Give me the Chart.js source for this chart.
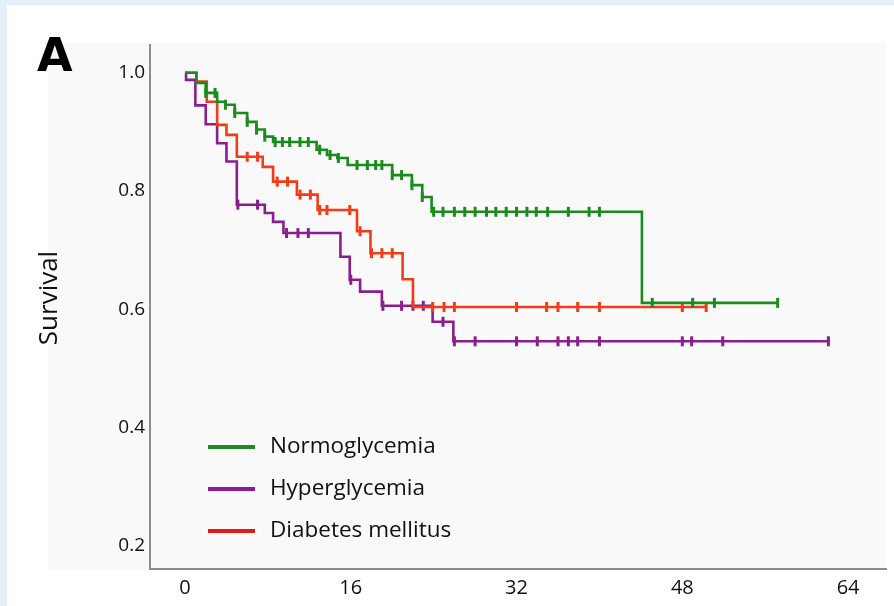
<!DOCTYPE html>
<html>
<head>
<meta charset="utf-8">
<script src="https://cdn.jsdelivr.net/npm/chart.js@4.4.1/dist/chart.umd.min.js"></script>
<style>
  html,body{margin:0;padding:0;}
  body{width:894px;height:606px;background:#e4eff9;position:relative;overflow:hidden;}
  #panel{position:absolute;left:7px;top:5px;width:887px;height:601px;background:#ffffff;}
  #plotbg{position:absolute;left:48px;top:43px;width:838px;height:527px;background:#f9f9f9;}
  #c{position:absolute;left:0;top:0;}
</style>
</head>
<body>
<div id="panel"></div>
<div id="plotbg"></div>
<canvas id="c" width="894" height="606"></canvas>
<script>
// ---- Data ----
const xTicks = [0, 16, 32, 48, 64];
const yTicks = [0.2, 0.4, 0.6, 0.8, 1.0];
const groupNames = ['Normoglycemia', 'Hyperglycemia', 'Diabetes mellitus'];

// Normoglycemia: step times and survival after each step
const normTimes = [0, 1.1, 2.0, 3.1, 3.9, 4.8, 6.0, 6.9, 7.7, 8.5, 12.7, 13.7, 14.7, 15.7, 20.0, 21.9, 22.9, 23.8, 44.1, 57.3];
const normSurv  = [1.0, 0.983, 0.966, 0.951, 0.946, 0.932, 0.917, 0.904, 0.892, 0.883, 0.870, 0.861, 0.856, 0.844, 0.827, 0.810, 0.790, 0.765, 0.611, 0.611];
const normCensor = [2.0, 2.9, 3.9, 4.8, 6.0, 6.9, 7.7, 8.7, 9.4, 10.1, 11.1, 11.9, 13.0, 14.0, 14.8, 16.6, 17.6, 18.4, 19.0, 20.0, 20.9, 21.9, 22.9, 24.0, 24.9, 26.0, 27.0, 28.0, 29.1, 30.0, 31.0, 32.0, 33.0, 33.9, 35.0, 37.0, 39.0, 40.0, 45.1, 49.0, 51.1, 57.2];

// Hyperglycemia
const hyperTimes = [0, 0.1, 1.0, 2.0, 3.1, 4.0, 5.0, 7.7, 8.5, 9.5, 15.0, 15.9, 16.9, 19.0, 23.9, 25.9, 62.2];
const hyperSurv  = [1.0, 0.988, 0.945, 0.913, 0.881, 0.850, 0.777, 0.763, 0.748, 0.729, 0.689, 0.650, 0.630, 0.606, 0.579, 0.546, 0.546];
const hyperCensor = [5.1, 7.0, 9.8, 10.9, 11.9, 16.0, 19.1, 20.9, 22.0, 23.0, 24.9, 26.0, 28.0, 32.0, 34.0, 36.0, 37.0, 37.9, 40.0, 48.0, 48.9, 51.9, 62.1];

// Diabetes mellitus
const diabTimes = [0, 1.1, 2.1, 3.1, 4.0, 5.0, 7.5, 8.5, 10.8, 12.8, 16.6, 17.9, 21.0, 22.0, 50.4];
const diabSurv  = [1.0, 0.985, 0.951, 0.912, 0.895, 0.858, 0.841, 0.816, 0.794, 0.768, 0.732, 0.695, 0.651, 0.604, 0.604];
const diabCensor = [6.0, 7.0, 8.9, 9.9, 11.1, 12.1, 13.0, 13.7, 15.9, 16.9, 18.0, 19.0, 20.0, 23.9, 25.0, 26.0, 32.0, 34.9, 36.0, 37.9, 40.0, 48.0, 50.3];

const curveColors  = ['#1c8b1e', '#8b1e8e', '#f23c18'];
const legendColors = ['#1f8a24', '#8e1a8e', '#dd1a1a'];

// ---- helpers ----
function stepPoints(times, surv){ return times.map((t,i)=>({x:t, y:surv[i]})); }
function survAt(times, surv, t){ let s = surv[0]; for(let i=0;i<times.length;i++){ if(times[i] <= t) s = surv[i]; } return s; }
function censorPoints(times, surv, cens){ return cens.map(t=>({x:t, y:survAt(times, surv, t)})); }

const groups = [
  {times: normTimes, surv: normSurv, cens: normCensor, order: 0},
  {times: hyperTimes, surv: hyperSurv, cens: hyperCensor, order: 4},
  {times: diabTimes, surv: diabSurv, cens: diabCensor, order: 2}
];

const datasets = [];
groups.forEach((g, i) => {
  datasets.push({
    label: groupNames[i],
    data: stepPoints(g.times, g.surv),
    showLine: true, stepped: 'before',
    borderColor: curveColors[i], borderWidth: 2.6,
    pointRadius: 0, fill: false, order: g.order
  });
  datasets.push({
    label: groupNames[i] + ' censored',
    data: censorPoints(g.times, g.surv, g.cens),
    showLine: false,
    pointStyle: 'line', rotation: 90, pointRadius: 5,
    borderColor: curveColors[i], backgroundColor: curveColors[i],
    pointBorderWidth: 3, borderWidth: 3, order: g.order + 1
  });
});

const FONT = '"Open Sans", "Liberation Sans", sans-serif';

const decor = {
  id: 'decor',
  afterDraw(chart){
    const ctx = chart.ctx;
    ctx.save();
    // Panel letter
    ctx.fillStyle = '#000';
    ctx.font = 'bold 46px "DejaVu Sans", sans-serif';
    ctx.textAlign = 'left'; ctx.textBaseline = 'alphabetic';
    ctx.fillText('A', 37, 71);
    // Y axis title
    ctx.save();
    ctx.translate(50, 298);
    ctx.rotate(-Math.PI/2);
    ctx.font = '26px ' + FONT;
    ctx.fillStyle = '#111';
    ctx.textAlign = 'center'; ctx.textBaseline = 'middle';
    ctx.fillText('Survival', 0, 0);
    ctx.restore();
    // Legend
    const ys = [447, 489, 531];
    groupNames.forEach((name, i) => {
      ctx.strokeStyle = legendColors[i];
      ctx.lineWidth = 4;
      ctx.beginPath(); ctx.moveTo(208, ys[i]); ctx.lineTo(255, ys[i]); ctx.stroke();
      ctx.fillStyle = '#111';
      ctx.font = '22.5px ' + FONT;
      ctx.textAlign = 'left'; ctx.textBaseline = 'middle';
      ctx.fillText(name, 270, ys[i]);
    });
    ctx.restore();
  }
};

new Chart(document.getElementById('c'), {
  type: 'scatter',
  data: { datasets },
  plugins: [decor],
  options: {
    responsive: false, animation: false, devicePixelRatio: 1,
    layout: { padding: { top: 45, right: 8, left: 0, bottom: 0 } },
    plugins: { legend: { display: false }, tooltip: { enabled: false } },
    scales: {
      x: {
        type: 'linear', min: -3.38, max: 67.66,
        grid: { display: false, drawTicks: false },
        border: { display: true, color: '#8c8c8c', width: 2 },
        afterBuildTicks: s => { s.ticks = xTicks.map(v => ({value: v})); },
        afterFit: s => { s.height = 37; },
        ticks: { color: '#111', font: { family: FONT, size: 20 }, padding: 7, maxRotation: 0,
                 callback: v => String(v) }
      },
      y: {
        type: 'linear', min: 0.161, max: 1.047,
        grid: { display: false, drawTicks: false },
        border: { display: true, color: '#8c8c8c', width: 2 },
        afterBuildTicks: s => { s.ticks = yTicks.map(v => ({value: v})); },
        afterFit: s => { s.width = 150; },
        ticks: { color: '#111', font: { family: FONT, size: 19 }, padding: 5,
                 callback: v => Number(v).toFixed(1) }
      }
    }
  }
});
</script>
</body>
</html>
